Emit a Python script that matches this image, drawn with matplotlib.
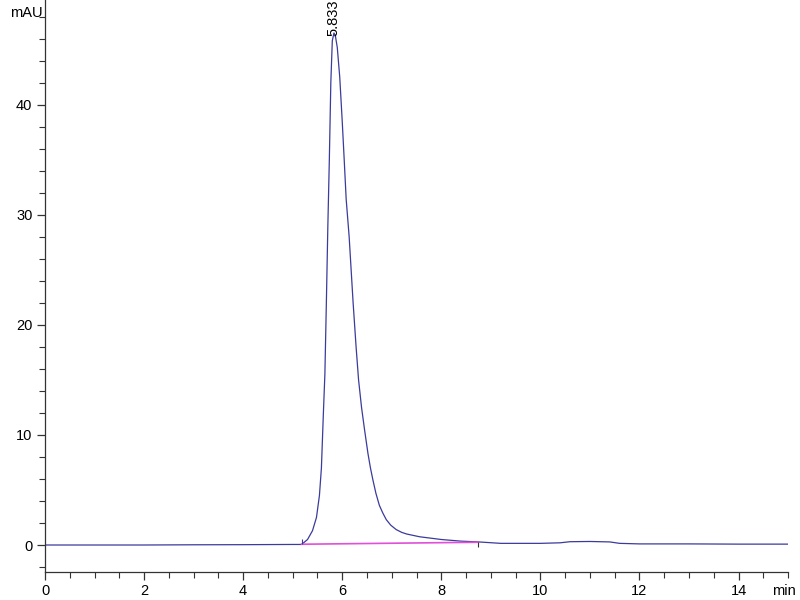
import matplotlib
matplotlib.use("Agg")
import matplotlib.pyplot as plt
from matplotlib.ticker import MultipleLocator

# chromatogram trace (min, mAU)
time = [0.0, 1.0, 2.0, 3.0, 4.0, 4.5, 5.0, 5.18, 5.30, 5.40, 5.48, 5.54, 5.58,
        5.62, 5.65, 5.68, 5.71, 5.74, 5.77, 5.80, 5.833, 5.86, 5.90, 5.95,
        6.00, 6.04, 6.08, 6.14, 6.22, 6.28, 6.33, 6.39, 6.45, 6.52, 6.57,
        6.62, 6.68, 6.75, 6.82, 6.89, 6.98, 7.09, 7.20, 7.30, 7.56, 8.00,
        8.40, 8.75, 9.20, 10.0, 10.4, 10.6, 11.0, 11.4, 11.6, 12.0, 13.0,
        14.0, 15.0]
signal = [0.0, 0.0, 0.0, 0.02, 0.03, 0.04, 0.05, 0.05, 0.5, 1.3, 2.5, 4.5, 7.0,
          12.0, 15.5, 22.0, 29.0, 35.0, 42.0, 45.8, 46.5, 46.3, 45.2, 42.5,
          38.5, 35.0, 31.4, 28.0, 22.0, 18.0, 15.0, 12.5, 10.5, 8.3, 7.0,
          5.9, 4.7, 3.6, 2.9, 2.3, 1.8, 1.4, 1.15, 1.0, 0.75, 0.5,
          0.35, 0.28, 0.15, 0.15, 0.2, 0.3, 0.32, 0.28, 0.15, 0.1, 0.1,
          0.08, 0.08]

# integration baseline
base_t = [5.18, 8.75]
base_y = [0.07, 0.25]

peak_rt = 5.833
peak_h = 46.2

fig = plt.figure(figsize=(8, 6), dpi=100)
ax = fig.add_axes([0.05625, 0.0467, 0.9288, 0.9533])

fam = ["Liberation Sans Narrow", "Liberation Sans", "DejaVu Sans"]

ax.plot(time, signal, color="#3b3b9c", lw=0.9)
ax.plot(base_t, base_y, color="#e050d8", lw=1.2)
ax.vlines(base_t[0], base_y[0], base_y[0] + 0.45, color="#3b3b9c", lw=0.8)
ax.vlines(base_t[1], base_y[1] - 0.4, base_y[1], color="#333333", lw=0.8)

ax.text(peak_rt, peak_h, "5.833", rotation=90, ha="center", va="bottom",
        fontsize=10.5, family=fam, clip_on=False)

ax.set_xlim(0, 15)
ax.set_ylim(-2.45, 49.5)
ax.xaxis.set_major_locator(MultipleLocator(2))
ax.xaxis.set_minor_locator(MultipleLocator(0.5))
ax.yaxis.set_major_locator(MultipleLocator(10))
ax.yaxis.set_minor_locator(MultipleLocator(2))

for s in ["top", "right"]:
    ax.spines[s].set_visible(False)
for s in ["left", "bottom"]:
    ax.spines[s].set_color("#333333")
    ax.spines[s].set_linewidth(0.9)

ax.tick_params(which="major", length=6, width=0.9, color="#333333",
               labelsize=10.5, pad=3)
ax.tick_params(which="minor", length=4, width=0.8, color="#333333")
for lab in ax.get_xticklabels() + ax.get_yticklabels():
    lab.set_family(fam)

fig.text(10 / 800, 1 - 13 / 600, "mAU", fontsize=10.5, family=fam,
         ha="left", va="center")
fig.text(772 / 800, 1 - 591 / 600, "min", fontsize=10.5, family=fam,
         ha="left", va="center")

fig.savefig("out.png", dpi=100)
